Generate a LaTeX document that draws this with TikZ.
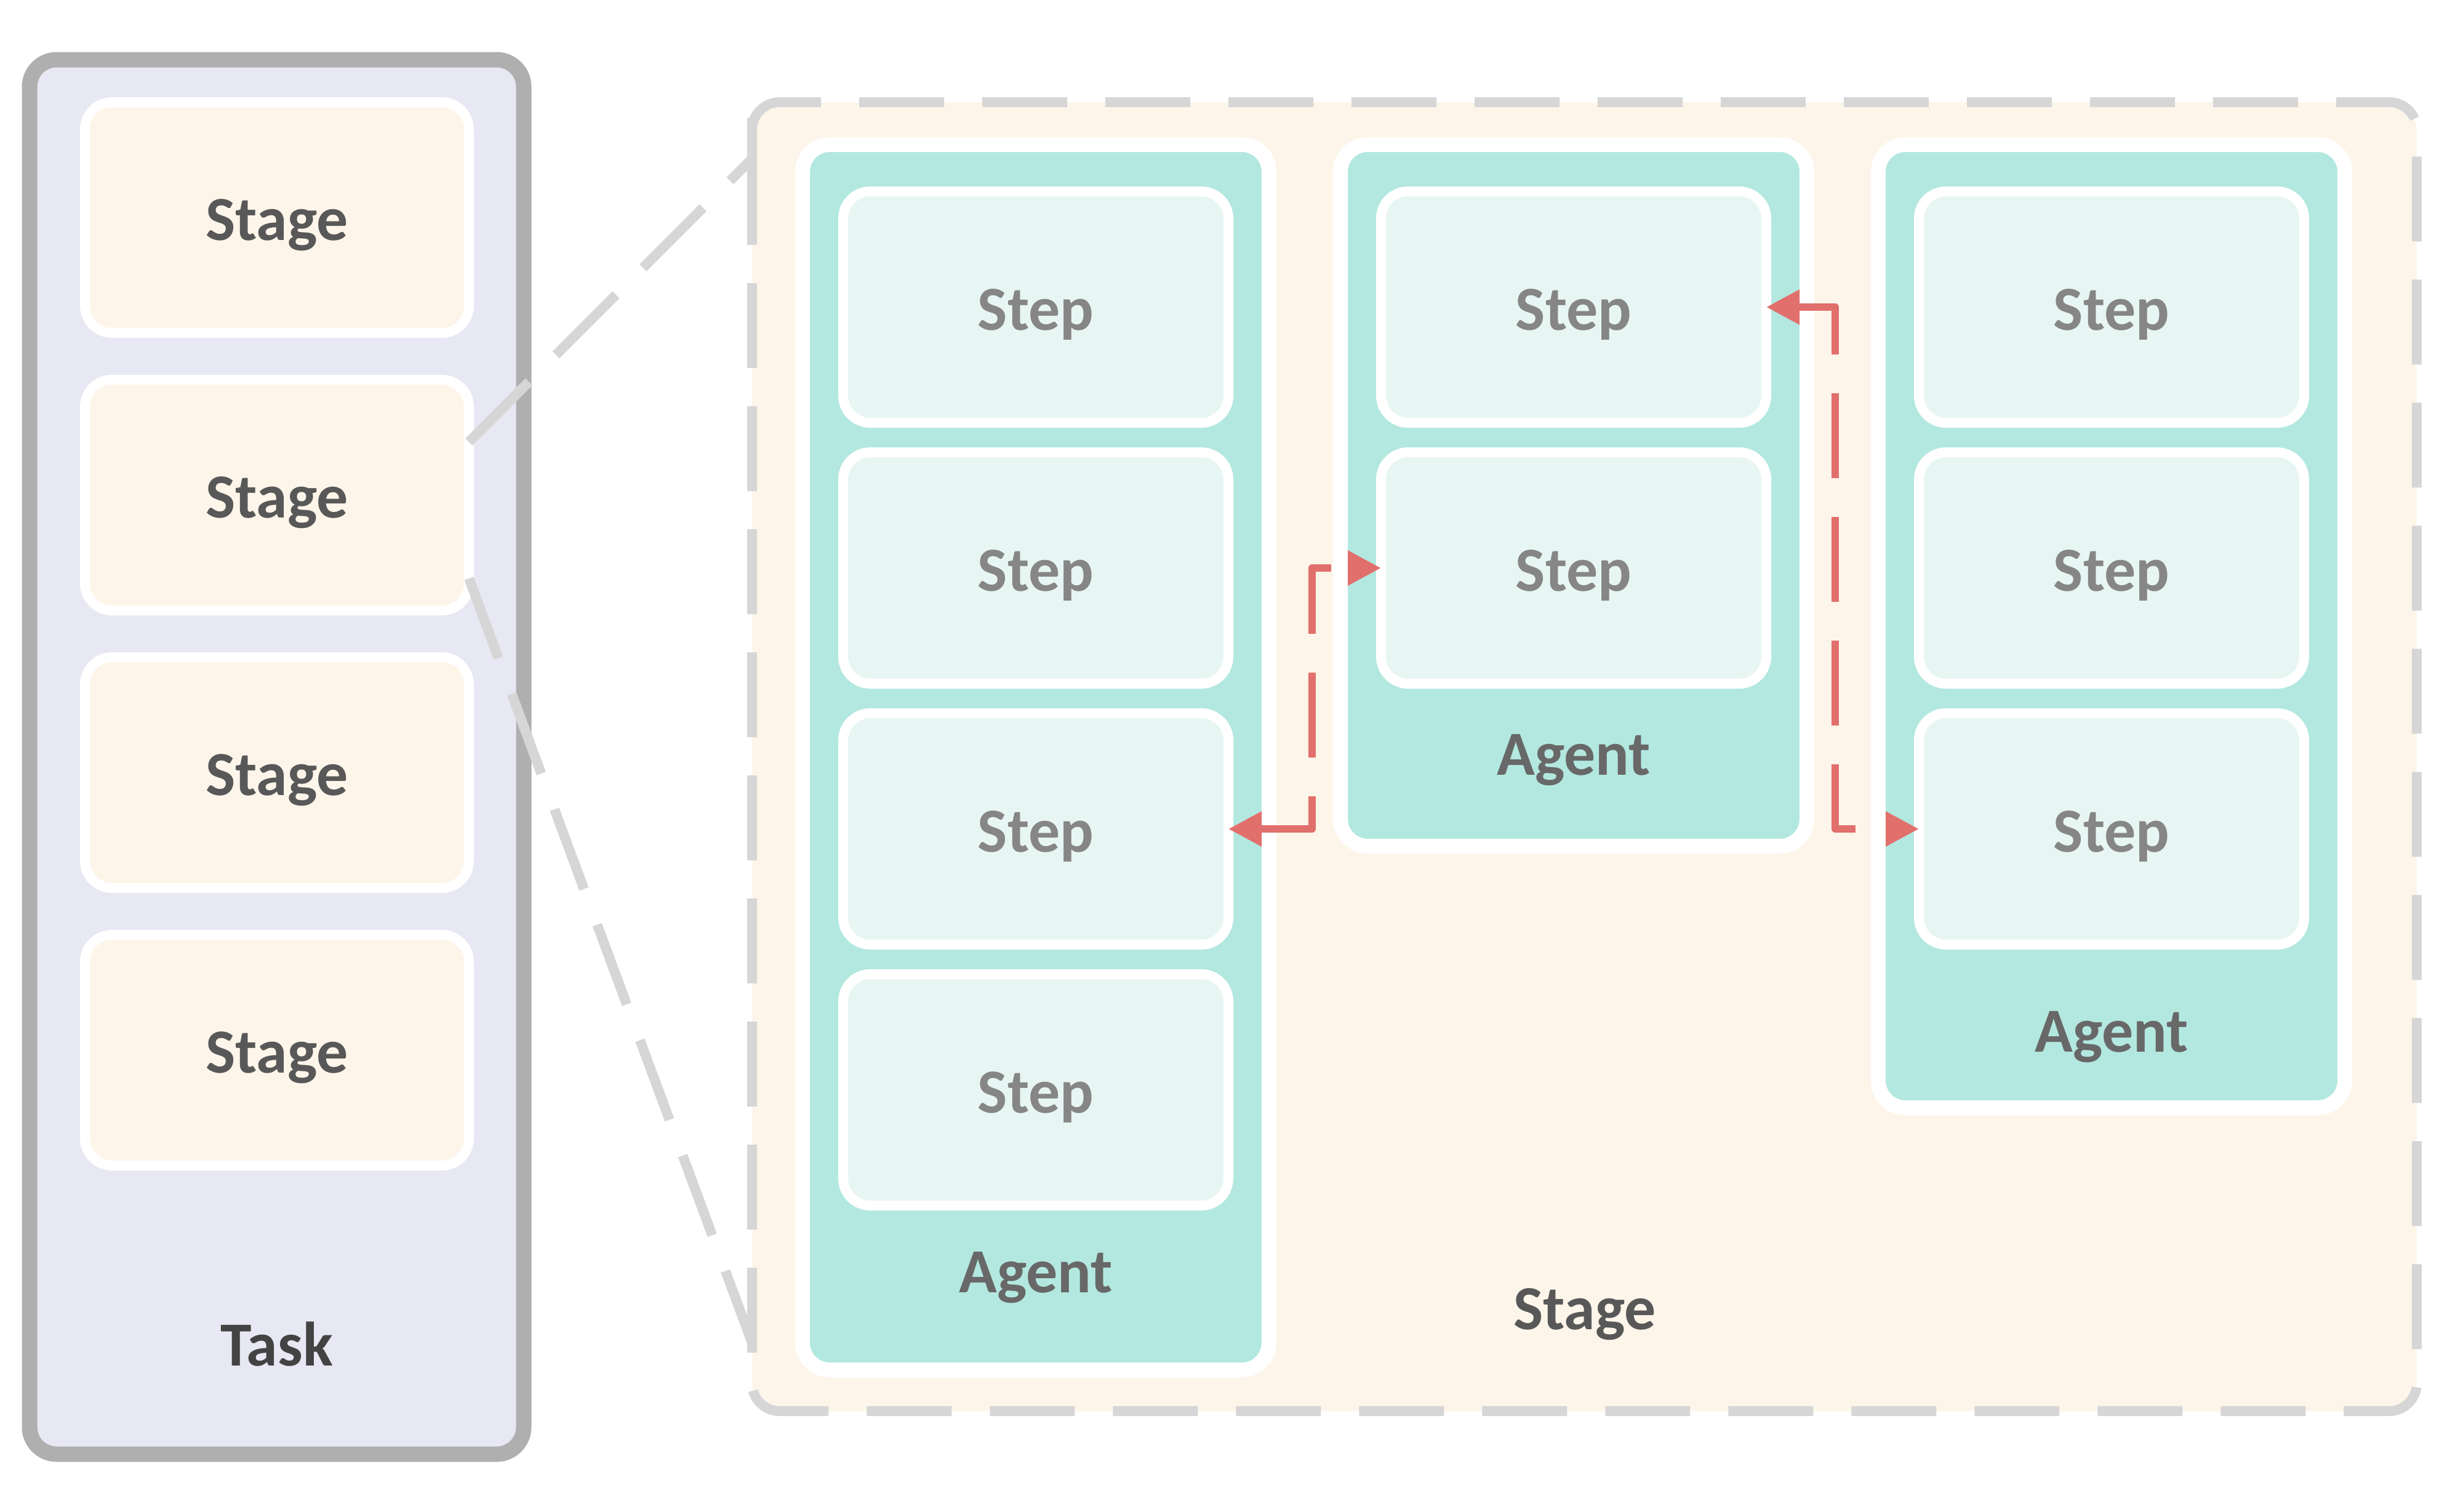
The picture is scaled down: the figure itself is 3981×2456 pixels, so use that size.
\documentclass[tikz,border=0pt]{standalone}
\usepackage{fontspec}
\setmainfont{Carlito}
\usetikzlibrary{arrows.meta}
\definecolor{taskfill}{HTML}{E8E8F4}
\definecolor{taskborder}{HTML}{AFAFAF}
\definecolor{stagefill}{HTML}{FEF5EA}
\definecolor{dashgray}{HTML}{D6D6D6}
\definecolor{agentfill}{HTML}{B3E8E0}
\definecolor{stepfill}{HTML}{E8F6F3}
\definecolor{redline}{HTML}{E16F6C}
\definecolor{steptext}{HTML}{868686}
\definecolor{agenttext}{HTML}{686868}
\definecolor{stagetext}{HTML}{585858}
\definecolor{tasktext}{HTML}{434343}
\tikzset{
  rbox/.style={rectangle, rounded corners=11pt, inner sep=0pt, outer sep=0pt},
  sz/.style 2 args={minimum width={#1*0.25pt}, minimum height={#2*0.25pt}},
  lblfont/.style={font=\fontsize{25.5}{29}\selectfont\bfseries},
  taskbox/.style={rbox, fill=taskfill, draw=taskborder, line width=6.25pt},
  stagebox/.style={rbox, fill=stagefill, draw=white, line width=4pt, sz={624}{375},
     lblfont, text=stagetext, text height=18.5pt, text depth=0pt},
  agentbox/.style={rbox, fill=agentfill, draw=white, line width=6pt},
  stepbox/.style={rbox, fill=stepfill, draw=white, line width=4pt, sz={626}{376},
     lblfont, text=steptext, text height=18.5pt, text depth=0pt},
  lbl/.style={anchor=base, inner sep=0pt, lblfont},
  graydash/.style={draw=dashgray, line width=4pt, dash pattern=on 34.5pt off 15.5pt},
  redarrow/.style={draw=redline, line width=3pt, line join=round,
     dash pattern=on 34.5pt off 15.75pt,
     {Triangle[length=13.5pt, width=13.5pt, fill=redline]}-{Triangle[length=13.5pt, width=13.5pt, fill=redline]}},
}
\begin{document}
\begin{tikzpicture}[x=0.25pt, y=-0.25pt]
\useasboundingbox (0,0) rectangle (3981,2456);

% Task column
\node[taskbox, sz={803}{2266}] (task) at (449.5,1230) {};
\node[stagebox] (st1) at (450,353.5) {Stage};
\node[stagebox] (st2) at (450,804.5) {Stage};
\node[stagebox] (st3) at (450,1255.5) {Stage};
\node[stagebox] (st4) at (450,1706.5) {Stage};
\node[lbl, text=tasktext] (tasklbl) at (449.5,2219) {Task};

% Big stage
\node[inner sep=0pt, outer sep=0pt, sz={2705}{2127}] (bigstage) at (2574.5,1229.5) {};
\fill[stagefill, rounded corners=11.25pt] (bigstage.north west) rectangle (bigstage.south east);
\draw[graydash, rounded corners=11.25pt] ([yshift=-12.25pt]bigstage.north west) -- (bigstage.south west) -- (bigstage.south east) -- (bigstage.north east) -- (bigstage.north west) -- cycle;
\node[lbl, text=stagetext] (biglbl) at (2575,2160) {Stage};

% Agents
\node[agentbox, sz={758}{1991}] (ag1) at (1683,1230.5) {};
\node[agentbox, sz={758}{1140}] (ag2) at (2557,805) {};
\node[agentbox, sz={758}{1565}] (ag3) at (3431,1017.5) {};

\node[stepbox] (a1s1) at (1683,499) {Step};
\node[stepbox] (a1s2) at (1683,923) {Step};
\node[stepbox] (a1s3) at (1683,1347) {Step};
\node[stepbox] (a1s4) at (1683,1771) {Step};
\node[stepbox] (a2s1) at (2557,499) {Step};
\node[stepbox] (a2s2) at (2557,923) {Step};
\node[stepbox] (a3s1) at (3431,499) {Step};
\node[stepbox] (a3s2) at (3431,923) {Step};
\node[stepbox] (a3s3) at (3431,1347) {Step};

\node[lbl, text=agenttext] (ag1lbl) at (1683,2100) {Agent};
\node[lbl, text=agenttext] (ag2lbl) at (2557,1259) {Agent};
\node[lbl, text=agenttext] (ag3lbl) at (3431,1709) {Agent};

% zoom connectors
\draw[graydash] ([yshift=-25.25pt]st2.north east) -- ([yshift=-23pt]bigstage.north west);
\draw[graydash] ([yshift=13pt]st2.south east) -- ([yshift=27.75pt]bigstage.south west);

% red arrows
\draw[redarrow] (a1s3.east) -- ++(136,0) |- (a2s2.west);
\draw[redarrow] (a2s1.east) -- ++(112,0) |- (a3s3.west);
\end{tikzpicture}
\end{document}
